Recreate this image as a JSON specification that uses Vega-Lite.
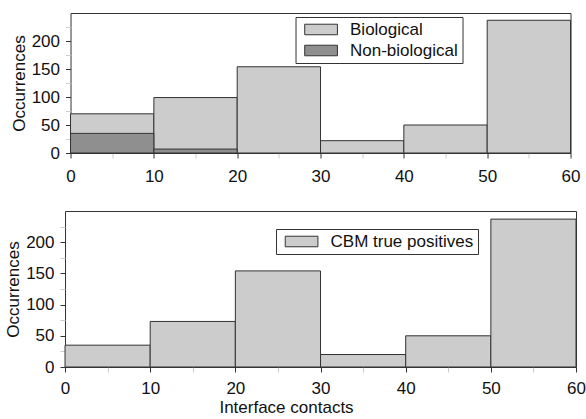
{
  "$schema": "https://vega.github.io/schema/vega-lite/v6.json",
  "background": "white",
  "padding": {"left": 4, "top": 12, "right": 5, "bottom": 0},
  "config": {
    "font": "Liberation Sans",
    "view": {"stroke": "#333", "strokeWidth": 1},
    "axis": {
      "labelFont": "Liberation Sans", "labelFontSize": 17, "labelColor": "#111",
      "titleFont": "Liberation Sans", "titleFontSize": 17, "titleFontWeight": "normal", "titleColor": "#111",
      "domain": false, "grid": false, "tickSize": 5, "labelFlush": false, "labelOverlap": false
    },
    "legend": {
      "labelFont": "Liberation Sans", "labelFontSize": 17, "labelColor": "#111",
      "fillColor": "white", "strokeColor": "#333", "padding": 4, "rowPadding": 3, "labelOffset": 33.5,
      "symbolStrokeColor": "#333", "symbolStrokeWidth": 1, "symbolOpacity": 1
    }
  },
  "spacing": 25,
  "center": true,
  "resolve": {"scale": {"fill": "independent"}, "legend": {"fill": "independent"}},
  "vconcat": [
    {
      "width": 500,
      "height": 140,
      "data": {"values": [
        {"start": 0, "end": 10, "type": "Biological", "count": 70},
        {"start": 10, "end": 20, "type": "Biological", "count": 99},
        {"start": 20, "end": 30, "type": "Biological", "count": 154},
        {"start": 30, "end": 40, "type": "Biological", "count": 22},
        {"start": 40, "end": 50, "type": "Biological", "count": 50},
        {"start": 50, "end": 60, "type": "Biological", "count": 237},
        {"start": 0, "end": 10, "type": "Non-biological", "count": 35},
        {"start": 10, "end": 20, "type": "Non-biological", "count": 7}
      ]},
      "mark": {"type": "bar", "stroke": "#333", "strokeWidth": 1},
      "encoding": {
        "x": {"field": "start", "type": "quantitative", "scale": {"domain": [0, 60]},
          "axis": {"title": null, "values": [0,5,10,15,20,25,30,35,40,45,50,55,60],
            "labelExpr": "datum.value % 10 === 0 ? datum.label : ''", "labelPadding": 10,
            "tickColor": {"condition": {"test": "datum.value % 10 !== 0", "value": "#cccccc"}, "value": "#333"}}},
        "x2": {"field": "end"},
        "y": {"field": "count", "type": "quantitative", "stack": null, "scale": {"domain": [0, 250]},
          "axis": {"title": "Occurrences", "titlePadding": 3, "labelPadding": 6,
            "values": [0,25,50,75,100,125,150,175,200,225],
            "labelExpr": "datum.value % 50 === 0 ? datum.label : ''",
            "tickColor": {"condition": {"test": "datum.value % 50 !== 0", "value": "#cccccc"}, "value": "#333"}}},
        "y2": {"datum": 0},
        "fill": {"field": "type", "type": "nominal",
          "scale": {"domain": ["Biological", "Non-biological"], "range": ["#cccccc", "#8f8f8f"]},
          "legend": {"title": null, "orient": "none", "legendX": 225, "legendY": 4,
            "symbolType": "M-0.55,-0.88H4.9V0.88H-0.55Z", "symbolSize": 144}}
      }
    },
    {
      "width": 511,
      "height": 156,
      "data": {"values": [
        {"start": 0, "end": 10, "type": "CBM true positives", "count": 35},
        {"start": 10, "end": 20, "type": "CBM true positives", "count": 73},
        {"start": 20, "end": 30, "type": "CBM true positives", "count": 154},
        {"start": 30, "end": 40, "type": "CBM true positives", "count": 20},
        {"start": 40, "end": 50, "type": "CBM true positives", "count": 50},
        {"start": 50, "end": 60, "type": "CBM true positives", "count": 237}
      ]},
      "mark": {"type": "bar", "stroke": "#333", "strokeWidth": 1},
      "encoding": {
        "x": {"field": "start", "type": "quantitative", "scale": {"domain": [0, 60]},
          "axis": {"title": "Interface contacts", "titlePadding": 3, "titleX": 221, "titleAlign": "center",
            "values": [0,5,10,15,20,25,30,35,40,45,50,55,60],
            "labelExpr": "datum.value % 10 === 0 ? datum.label : ''", "labelPadding": 8,
            "tickColor": {"condition": {"test": "datum.value % 10 !== 0", "value": "#cccccc"}, "value": "#333"}}},
        "x2": {"field": "end"},
        "y": {"field": "count", "type": "quantitative", "stack": null, "scale": {"domain": [0, 250]},
          "axis": {"title": "Occurrences", "titlePadding": 3, "labelPadding": 6,
            "values": [0,25,50,75,100,125,150,175,200,225],
            "labelExpr": "datum.value % 50 === 0 ? datum.label : ''",
            "tickColor": {"condition": {"test": "datum.value % 50 !== 0", "value": "#cccccc"}, "value": "#333"}}},
        "y2": {"datum": 0},
        "fill": {"field": "type", "type": "nominal",
          "scale": {"domain": ["CBM true positives"], "range": ["#cccccc"]},
          "legend": {"title": null, "orient": "none", "legendX": 211, "legendY": 18,
            "symbolType": "M-0.55,-0.88H4.9V0.88H-0.55Z", "symbolSize": 144}}
      }
    }
  ]
}
